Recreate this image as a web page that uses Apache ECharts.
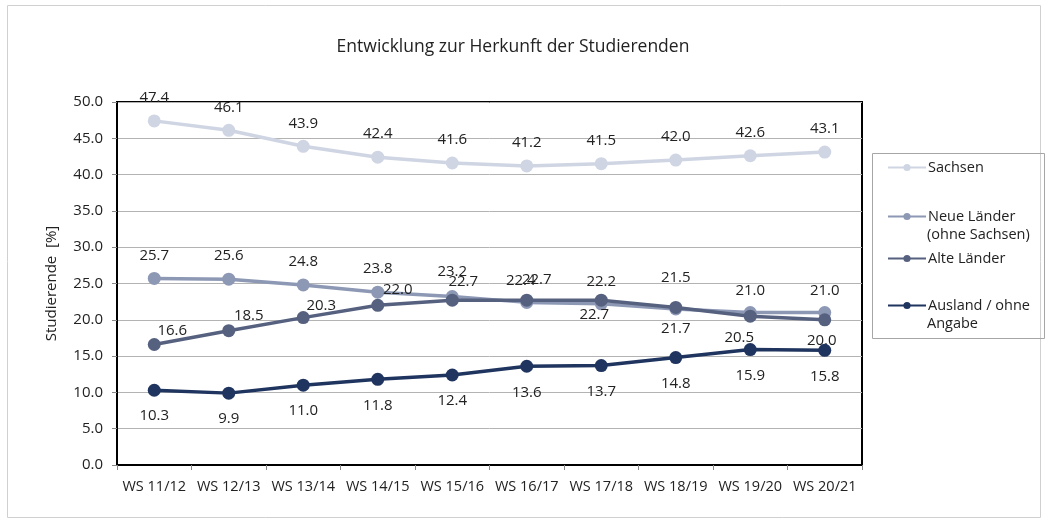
<!DOCTYPE html>
<html>
<head>
<meta charset="utf-8">
<script src="https://cdn.jsdelivr.net/npm/echarts@6/dist/echarts.min.js"></script>
<style>
    html, body { margin: 0; padding: 0; background: #fff; }
    #chart { width: 1047px; height: 523px; }
</style>
</head>
<body>
<div id="chart"></div>
<script>
// data
const semesters = ['WS 11/12', 'WS 12/13', 'WS 13/14', 'WS 14/15', 'WS 15/16', 'WS 16/17', 'WS 17/18', 'WS 18/19', 'WS 19/20', 'WS 20/21'];
const sachsen = [47.4, 46.1, 43.9, 42.4, 41.6, 41.2, 41.5, 42.0, 42.6, 43.1];
const neueLaender = [25.7, 25.6, 24.8, 23.8, 23.2, 22.4, 22.2, 21.5, 21.0, 21.0];
const alteLaender = [16.6, 18.5, 20.3, 22.0, 22.7, 22.7, 22.7, 21.7, 20.5, 20.0];
const ausland = [10.3, 9.9, 11.0, 11.8, 12.4, 13.6, 13.7, 14.8, 15.9, 15.8];

// label placement (offset from point centre), like the hand-placed excel labels
const offSachsen = sachsen.map(() => [0, -23]);
const offNeue = [[0, -23], [0, -23], [0, -23], [0, -23], [0, -25], [-6, -22], [0, -22], [0, -31], [0, -22], [0, -22]];
const offAlte = [[18, -14], [20, -15], [18, -12], [20, -16], [11, -18], [10, -20], [-7, 15], [0, 21], [-11, 22], [-3, 21]];
const offAusland = ausland.map(() => [0, 26]);

const font = '"Open Sans", "Noto Sans", sans-serif';

function makeSeries(name, values, offsets, color, z) {
    return {
        name: name,
        type: 'line',
        data: values,
        symbol: 'circle',
        symbolSize: 13,
        z: z,
        lineStyle: { color: color, width: 3.5 },
        itemStyle: { color: color },
        label: {
            show: true,
            position: 'inside',
            align: 'center',
            verticalAlign: 'middle',
            color: '#222',
            fontSize: 15,
            fontFamily: font,
            formatter: p => p.value.toFixed(1)
        },
        labelLayout: p => ({
            dx: offsets[p.dataIndex][0],
            dy: offsets[p.dataIndex][1],
            hideOverlap: false
        }),
        emphasis: { disabled: true }
    };
}

const legendNames = ['Sachsen', 'Neue Länder (ohne Sachsen)', 'Alte Länder', 'Ausland / ohne Angabe'];
const legendFirst = ['Sachsen', 'Neue Länder', 'Alte Länder', 'Ausland / ohne'];
const legendSecond = ['', '(ohne Sachsen)', '', 'Angabe'];
const legendTops = [160, 209, 251, 298];

const chart = echarts.init(document.getElementById('chart'));

chart.setOption({
    animation: false,
    title: {
        text: 'Entwicklung zur Herkunft der Studierenden',
        left: 508,
        top: 33,
        textAlign: 'center',
        textStyle: { fontSize: 17.5, fontWeight: 'normal', color: '#222', fontFamily: font }
    },
    legend: legendNames.map((n, i) => ({
        data: [n],
        left: 887,
        top: legendTops[i],
        itemWidth: 38,
        itemHeight: 9,
        padding: 0,
        selectedMode: false,
        formatter: () => legendFirst[i],
        textStyle: { fontSize: 14.5, color: '#222', fontFamily: font, padding: [0, 0, 0, -3] }
    })),
    graphic: [
        {
            type: 'rect',
            shape: { x: 7.5, y: 5.5, width: 1033, height: 512 },
            style: { fill: 'none', stroke: '#d0d0d0', lineWidth: 1 },
            silent: true
        },
        {
            type: 'rect',
            shape: { x: 872.5, y: 153.5, width: 172, height: 185 },
            style: { fill: 'none', stroke: '#a6a6a6', lineWidth: 1 },
            silent: true
        },
        ...legendSecond.map((t, i) => ({
            type: 'text',
            left: 927,
            top: legendTops[i] + 18,
            style: { text: t, fontSize: 14.5, fill: '#222', fontFamily: font },
            silent: true
        }))
    ],
    grid: {
        left: 117,
        right: 185,
        top: 102,
        bottom: 58,
        show: true,
        borderColor: '#000',
        borderWidth: 2
    },
    xAxis: {
        type: 'category',
        data: semesters,
        boundaryGap: true,
        axisLine: { lineStyle: { color: '#000', width: 2 } },
        axisTick: { show: true, length: 5, lineStyle: { color: '#888' } },
        axisLabel: { color: '#222', fontSize: 14.5, fontFamily: font, margin: 14, interval: 0 }
    },
    yAxis: {
        type: 'value',
        min: 0,
        max: 50,
        interval: 5,
        name: 'Studierende  [%]',
        nameLocation: 'middle',
        nameGap: 58,
        nameTextStyle: { color: '#222', fontSize: 15, fontFamily: font },
        axisLine: { show: true, lineStyle: { color: '#000', width: 2 } },
        axisTick: { show: true, length: 5, lineStyle: { color: '#888' } },
        axisLabel: { color: '#222', fontSize: 15, fontFamily: font, margin: 14, formatter: v => v.toFixed(1) },
        splitLine: { lineStyle: { color: '#b3b3b3', width: 1 } }
    },
    series: [
        makeSeries(legendNames[0], sachsen, offSachsen, '#cfd5e3', 2),
        makeSeries(legendNames[1], neueLaender, offNeue, '#8d98b5', 3),
        makeSeries(legendNames[2], alteLaender, offAlte, '#56617f', 4),
        makeSeries(legendNames[3], ausland, offAusland, '#1f345e', 5)
    ]
});
</script>
</body>
</html>
